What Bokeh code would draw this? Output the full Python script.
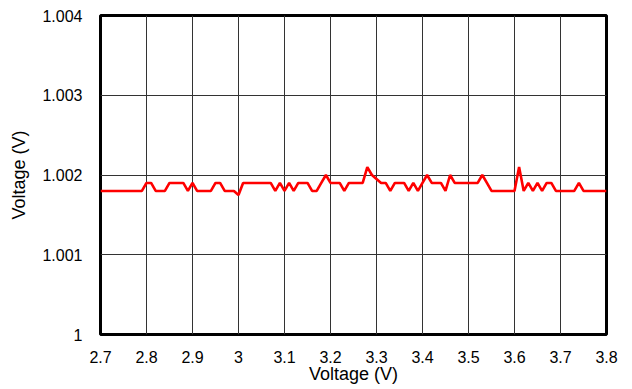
from bokeh.plotting import figure
from bokeh.models import Range1d, FixedTicker
from bokeh.embed import file_html
from bokeh.resources import INLINE

# ---- data ----
voltage_in = [
    2.70, 2.71, 2.72, 2.73, 2.74, 2.75, 2.76, 2.77, 2.78, 2.79,
    2.80, 2.81, 2.82, 2.83, 2.84, 2.85, 2.86, 2.87, 2.88, 2.89,
    2.90, 2.91, 2.92, 2.93, 2.94, 2.95, 2.96, 2.97, 2.98, 2.99,
    3.00, 3.01, 3.02, 3.03, 3.04, 3.05, 3.06, 3.07, 3.08, 3.09,
    3.10, 3.11, 3.12, 3.13, 3.14, 3.15, 3.16, 3.17, 3.18, 3.19,
    3.20, 3.21, 3.22, 3.23, 3.24, 3.25, 3.26, 3.27, 3.28, 3.29,
    3.30, 3.31, 3.32, 3.33, 3.34, 3.35, 3.36, 3.37, 3.38, 3.39,
    3.40, 3.41, 3.42, 3.43, 3.44, 3.45, 3.46, 3.47, 3.48, 3.49,
    3.50, 3.51, 3.52, 3.53, 3.54, 3.55, 3.56, 3.57, 3.58, 3.59,
    3.60, 3.61, 3.62, 3.63, 3.64, 3.65, 3.66, 3.67, 3.68, 3.69,
    3.70, 3.71, 3.72, 3.73, 3.74, 3.75, 3.76, 3.77, 3.78, 3.79,
    3.80,
]
voltage_out = [
    1.0018, 1.0018, 1.0018, 1.0018, 1.0018, 1.0018, 1.0018, 1.0018, 1.0018, 1.0018,
    1.0019, 1.0019, 1.0018, 1.0018, 1.0018, 1.0019, 1.0019, 1.0019, 1.0019, 1.0018,
    1.0019, 1.0018, 1.0018, 1.0018, 1.0018, 1.0019, 1.0019, 1.0018, 1.0018, 1.0018,
    1.00175, 1.0019, 1.0019, 1.0019, 1.0019, 1.0019, 1.0019, 1.0019, 1.0018, 1.0019,
    1.0018, 1.0019, 1.0018, 1.0019, 1.0019, 1.0019, 1.0018, 1.0018, 1.0019, 1.0020,
    1.0019, 1.0019, 1.0019, 1.0018, 1.0019, 1.0019, 1.0019, 1.0019, 1.0021, 1.0020,
    1.00195, 1.0019, 1.0019, 1.0018, 1.0019, 1.0019, 1.0019, 1.0018, 1.0019, 1.0018,
    1.0019, 1.0020, 1.0019, 1.0019, 1.0019, 1.0018, 1.0020, 1.0019, 1.0019, 1.0019,
    1.0019, 1.0019, 1.0019, 1.0020, 1.0019, 1.0018, 1.0018, 1.0018, 1.0018, 1.0018,
    1.0018, 1.0021, 1.0018, 1.0019, 1.0018, 1.0019, 1.0018, 1.0019, 1.0019, 1.0018,
    1.0018, 1.0018, 1.0018, 1.0018, 1.0019, 1.0018, 1.0018, 1.0018, 1.0018, 1.0018,
    1.0018,
]
x_ticks = [2.7, 2.8, 2.9, 3.0, 3.1, 3.2, 3.3, 3.4, 3.5, 3.6, 3.7, 3.8]
x_tick_labels = ["2.7", "2.8", "2.9", "3", "3.1", "3.2", "3.3", "3.4", "3.5", "3.6", "3.7", "3.8"]
y_ticks = [1.000, 1.001, 1.002, 1.003, 1.004]
y_tick_labels = ["1", "1.001", "1.002", "1.003", "1.004"]
x_title = "Voltage (V)"
y_title = "Voltage (V)"

FONT = "Liberation Sans"

p = figure(width=632, height=389, output_backend="svg", toolbar_location=None,
           x_range=Range1d(2.7, 3.8), y_range=Range1d(1.0, 1.004),
           min_border_left=100, min_border_right=26, min_border_top=15, min_border_bottom=55)

p.line(voltage_in, voltage_out, line_color="#ff0000", line_width=2.6)

p.outline_line_color = "black"
p.outline_line_width = 3
p.background_fill_color = "white"
p.border_fill_color = "white"

p.xaxis.ticker = FixedTicker(ticks=x_ticks)
p.yaxis.ticker = FixedTicker(ticks=y_ticks)
p.xaxis.major_label_overrides = {t: s for t, s in zip(x_ticks, x_tick_labels)}
p.yaxis.major_label_overrides = {t: s for t, s in zip(y_ticks, y_tick_labels)}

for ax in (p.xaxis, p.yaxis):
    ax.axis_line_color = None
    ax.major_tick_line_color = None
    ax.minor_tick_line_color = None
    ax.major_label_text_font = FONT
    ax.major_label_text_font_size = "16px"
    ax.major_label_text_color = "black"
    ax.axis_label_text_font = FONT
    ax.axis_label_text_font_size = "18px"
    ax.axis_label_text_font_style = "normal"
    ax.axis_label_text_color = "black"

p.xaxis.axis_label = x_title
p.yaxis.axis_label = y_title
p.xaxis.major_label_standoff = 10
p.xaxis.axis_label_standoff = -2
p.yaxis.major_label_standoff = 12
p.yaxis.axis_label_standoff = 10

p.xgrid.grid_line_color = "#333333"
p.ygrid.grid_line_color = "#333333"
p.xgrid.grid_line_width = 1
p.ygrid.grid_line_width = 1

open("out.html", "w").write(file_html(p, INLINE))
